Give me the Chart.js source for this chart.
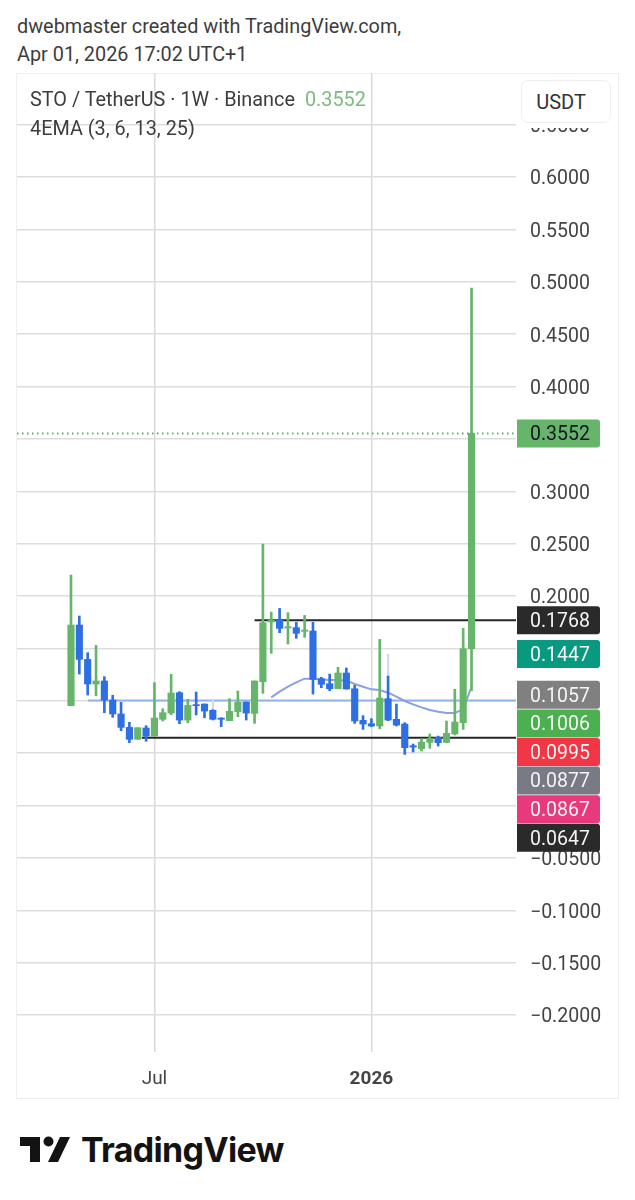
<!DOCTYPE html>
<html><head><meta charset="utf-8">
<style>
html,body{margin:0;padding:0;background:#fff;width:635px;height:1200px;overflow:hidden;font-family:Roboto,sans-serif;color:#3d3d3d}
.abs{position:absolute;white-space:nowrap}
#frame{position:absolute;left:16px;top:73px;width:603px;height:1026px;border:1px solid #eeeeee;box-sizing:border-box}
#wrap{position:absolute;left:17px;top:73px;width:602px;height:1026px}
#mask{position:absolute;left:521px;top:120px;width:90px;height:8px;background:#fff}
#usdt{position:absolute;left:521px;top:80px;width:90px;height:43px;background:#fff;border:1px solid #efefef;border-radius:7px;box-sizing:border-box;text-align:center;line-height:42px;font-size:20px;color:#333;padding-right:10px}
</style></head><body>
<div class="abs" style="left:17px;top:14px;font-size:19.85px;line-height:26px">dwebmaster created with TradingView.com,</div>
<div class="abs" style="left:17px;top:42px;font-size:19.85px;line-height:26px">Apr 01, 2026 17:02 UTC+1</div>
<div id="frame"></div>
<div id="wrap"><canvas id="c" width="602" height="1026"></canvas></div>
<div class="abs" style="left:30px;top:87px;font-size:19.85px;line-height:26px">STO / TetherUS · 1W · Binance <span style="color:#7dbb80;margin-left:5px">0.3552</span></div>
<div class="abs" style="left:30px;top:116px;font-size:19.85px;line-height:26px">4EMA (3, 6, 13, 25)</div>
<div id="mask"></div>
<div id="usdt">USDT</div>
<svg class="abs" style="left:20px;top:1136px" width="52" height="27" viewBox="0 0 52 27">
<path d="M0 1H20V26H10V10H0Z" fill="#131313"/><circle cx="28.5" cy="5.5" r="5" fill="#131313"/><path d="M40 1H50L38 26H28Z" fill="#131313"/></svg>
<div class="abs" style="left:81px;top:1128px;font-family:Inter,sans-serif;font-weight:700;font-size:34px;line-height:44px;letter-spacing:-0.7px;color:#131313">TradingView</div>
<script src="https://cdn.jsdelivr.net/npm/chart.js@4"></script>
<script>
const opens =[0.0953,0.1723,0.1395,0.1160,0.1189,0.1007,0.0874,0.0746,0.0632,0.0740,0.0663,0.0823,0.0883,0.1077,0.0816,0.0963,0.0969,0.0909,0.0835,0.0810,0.0896,0.0988,0.0880,0.1182,0.1752,0.1771,0.1695,0.1698,0.1663,0.1666,0.1211,0.1163,0.1115,0.1265,0.1115,0.0813,0.0781,0.0759,0.1020,0.0823,0.0778,0.0571,0.0543,0.0603,0.0651,0.0603,0.0683,0.0791,0.1497];
const closes=[0.1723,0.1395,0.1160,0.1189,0.1007,0.0874,0.0746,0.0632,0.0743,0.0663,0.0835,0.0886,0.1074,0.0816,0.0956,0.0953,0.0902,0.0823,0.0823,0.0899,0.0985,0.0883,0.1189,0.1745,0.1771,0.1691,0.1707,0.1644,0.1675,0.1204,0.1157,0.1115,0.1265,0.1112,0.0807,0.0778,0.0759,0.1026,0.0816,0.0768,0.0552,0.0558,0.0606,0.0641,0.0600,0.0689,0.0797,0.1497,0.3552];
const highs =[0.2200,0.1809,0.1459,0.1529,0.1230,0.1052,0.0985,0.0794,0.0743,0.0762,0.1173,0.0924,0.1252,0.1087,0.1014,0.1084,0.0969,0.0915,0.0838,0.1020,0.1093,0.0988,0.1189,0.2496,0.1847,0.1882,0.1841,0.1749,0.1815,0.1749,0.1224,0.1255,0.1319,0.1313,0.1147,0.0858,0.0829,0.1586,0.1236,0.0969,0.0791,0.0587,0.0638,0.0683,0.0663,0.0807,0.1109,0.1691,0.4940];
const lows  =[0.0953,0.1255,0.1055,0.1049,0.0886,0.0842,0.0714,0.0600,0.0632,0.0613,0.0663,0.0807,0.0867,0.0781,0.0791,0.0864,0.0838,0.0816,0.0753,0.0810,0.0848,0.0816,0.0784,0.1071,0.1453,0.1650,0.1542,0.1596,0.1605,0.1064,0.1125,0.1096,0.1115,0.1112,0.0784,0.0727,0.0753,0.0733,0.0810,0.0759,0.0488,0.0511,0.0520,0.0546,0.0568,0.0600,0.0673,0.0727,0.1096];
const faintIdx=[17,38];
const faintTop=[0.1007,0.1446];
const faintBottom=[0.0915,0.1236];
const emaIdx=[24,25,26,27,28,29,30,31,32,33,34,35,36,37,38,39,40,41,42,43,44,45,46,47,48];
const emaVal=[0.1033,0.1087,0.1134,0.1176,0.1211,0.1211,0.1204,0.1198,0.1198,0.1192,0.1160,0.1134,0.1109,0.1103,0.1077,0.1039,0.0998,0.0966,0.0937,0.0912,0.0896,0.0883,0.0883,0.0918,0.1134];
const levelBlue=0.1003, levelTop=0.1768, levelBottom=0.0647, lastPrice=0.3552;
const yTickValues=[-0.2,-0.15,-0.1,-0.05,0,0.05,0.1,0.15,0.2,0.25,0.3,0.35,0.4,0.45,0.5,0.55,0.6,0.65];
const xTickValues=[10,36];
const xTickLabels=['Jul','2026'];
const tagValues=[0.3552,0.1768,0.1447,0.1057,0.1006,0.0995,0.0877,0.0867,0.0647];
const tagColors=['#66b56b','#2a2a2a','#089981','#808080','#4caf50','#f23645','#787b86','#e8397c','#2a2a2a'];
const tagTextColors=['#131722','#f4f4f4','#f4f4f4','#f4f4f4','#f4f4f4','#f4f4f4','#f4f4f4','#f4f4f4','#f4f4f4'];

const GREEN='#66b56b',BLUE='#2f6fe4';
const idx=opens.map((_,i)=>i);
const cols=idx.map(i=>closes[i]>=opens[i]?GREEN:BLUE);
const XMIN=-6.47,XMAX=53.33;
const tagPlugin={id:'tags',
 beforeDraw(ch){
  const s=ch.scales.y;
  s._labelItems=s._computeLabelItems(ch.chartArea);
  s._labelItems.forEach(it=>{it.options.translation[1]+=2.5;});
 },
 afterDraw(ch){
  const c=ch.ctx,y=ch.scales.y,h=28,L=500,W=83;let prev=-1e9;
  c.save();c.font='19.5px Roboto';c.textBaseline='middle';c.textAlign='left';
  tagValues.forEach((v,i)=>{
    const p=Math.max(y.getPixelForValue(v),prev+28.6);prev=p;
    c.fillStyle=tagColors[i];c.beginPath();c.roundRect(L,p-h/2,W,h,[0,3,3,0]);c.fill();
    c.fillStyle=tagTextColors[i];c.fillText(tagValues[i].toFixed(4),513,p+2);
  });c.restore();
}};
const lineDs=(data,color,width,extra)=>Object.assign({type:'line',data,borderColor:color,borderWidth:width,pointRadius:0,tension:0,order:5,fill:false},extra||{});
new Chart(document.getElementById('c'),{
  type:'bar',
  data:{datasets:[
    {label:'bodies',data:idx.map(i=>({x:i,y:[opens[i],closes[i]]})),backgroundColor:cols,barThickness:6.5,grouped:false,order:1},
    {label:'wicks',data:idx.map(i=>({x:i,y:[lows[i],highs[i]]})),backgroundColor:cols,barThickness:2,grouped:false,order:2},
    {label:'faint',data:faintIdx.map((x,i)=>({x,y:[faintBottom[i],faintTop[i]]})),backgroundColor:'#cfd9ea',barThickness:1.5,grouped:false,order:3},
    lineDs(emaIdx.map((x,i)=>({x,y:emaVal[i]})),'#8a9fe6',2),
    lineDs([{x:2.04,y:levelBlue},{x:XMAX,y:levelBlue}],'#8fb3ea',2,{order:6}),
    lineDs([{x:22,y:levelTop},{x:XMAX,y:levelTop}],'#262626',2),
    lineDs([{x:8.5,y:levelBottom},{x:XMAX,y:levelBottom}],'#262626',2),
    lineDs([{x:XMIN,y:lastPrice},{x:XMAX,y:lastPrice}],'#5fae66',2,{borderDash:[1.5,3.5]})
  ]},
  plugins:[tagPlugin],
  options:{
    responsive:false,animation:false,devicePixelRatio:1,
    layout:{padding:0},
    plugins:{legend:{display:false},tooltip:{enabled:false},title:{display:false}},
    scales:{
      x:{type:'linear',offset:false,min:XMIN,max:XMAX,border:{display:false},
        grid:{color:'#d9d9d9',lineWidth:1.5,drawTicks:false,offset:false},
        afterBuildTicks(a){a.ticks=xTickValues.map(value=>({value}));},
        afterFit(a){a.height=47;a.paddingLeft=0;a.paddingRight=0;},
        ticks:{autoSkip:false,maxRotation:0,padding:16,color:'#444',
          font:c=>({family:'Roboto',size:19,weight:c.tick&&c.tick.value===36?'700':'400'}),
          callback:v=>xTickLabels[xTickValues.indexOf(v)]}
      },
      y:{position:'right',min:-0.2353,max:0.6993,border:{display:false},
        grid:{color:'#dddddd',lineWidth:1.5,drawTicks:false},
        afterBuildTicks(a){a.ticks=yTickValues.map(value=>({value}));},
        afterFit(a){a.width=103;a.paddingTop=0;a.paddingBottom=0;},
        ticks:{autoSkip:false,padding:14,color:'#444',font:{family:'Roboto',size:19.5},
          callback:v=>(v<0?'\u2212':'')+Math.abs(v).toFixed(4)}
      }
    }
  }
});
</script></body></html>
